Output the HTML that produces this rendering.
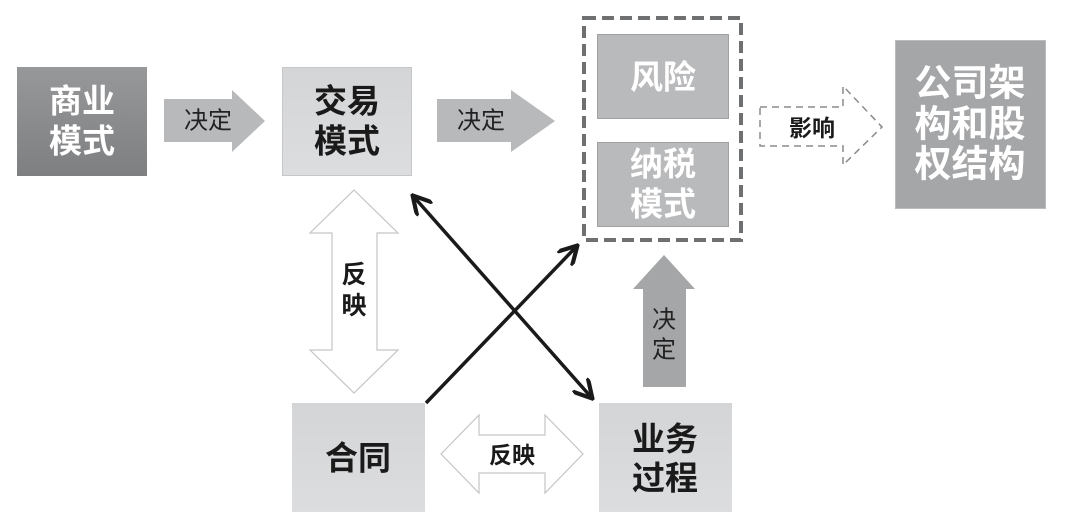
<!DOCTYPE html>
<html><head><meta charset="utf-8"><style>
html,body{margin:0;padding:0;background:#fff;}
svg{display:block;}
text{font-family:"Liberation Sans","Noto Sans CJK SC",sans-serif;text-anchor:middle;dominant-baseline:central;}
</style></head><body>
<svg width="1075" height="524" viewBox="0 0 1075 524" xmlns="http://www.w3.org/2000/svg">
<defs>
<linearGradient id="g1" x1="0" y1="0" x2="0" y2="1"><stop offset="0" stop-color="#97989a"/><stop offset="1" stop-color="#7e7f81"/></linearGradient>
<linearGradient id="g2" x1="0" y1="0" x2="0" y2="1"><stop offset="0" stop-color="#d4d5d7"/><stop offset="1" stop-color="#dcdddf"/></linearGradient>
<marker id="ah" viewBox="0 0 10 10" refX="8" refY="5" markerWidth="6" markerHeight="6" orient="auto-start-reverse"><path d="M0,0 L9,5 L0,10" fill="none" stroke="#1a1a1a" stroke-width="2"/></marker>
</defs>
<rect x="17" y="67" width="130" height="109" fill="url(#g1)"/>
<text x="82" y="101" font-size="33" font-weight="bold" fill="#fff">商业</text>
<text x="82" y="141" font-size="33" font-weight="bold" fill="#fff">模式</text>
<path d="M164,99 H232 V90 L265,121 L232,152 V142 H164 Z" fill="#b8b9bb"/>
<text x="208" y="121" font-size="24" fill="#222">决定</text>
<rect x="282.5" y="67.5" width="129" height="108" fill="url(#g2)" stroke="#c6c7c9"/>
<text x="347" y="101" font-size="33" font-weight="bold" fill="#1a1a1a">交易</text>
<text x="347" y="141" font-size="33" font-weight="bold" fill="#1a1a1a">模式</text>
<path d="M437,99 H511 V90 L555,121 L511,152 V142 H437 Z" fill="#b8b9bb"/>
<text x="481" y="121" font-size="24" fill="#222">决定</text>
<rect x="584" y="18" width="157" height="222" fill="none" stroke="#6f7072" stroke-width="4" stroke-dasharray="12,6"/>
<rect x="597.5" y="34.5" width="131" height="84" fill="#b9babc" stroke="#a0a1a3"/>
<text x="663" y="77" font-size="33" font-weight="bold" fill="#fff">风险</text>
<rect x="597.5" y="142.5" width="131" height="84" fill="#b9babc" stroke="#a0a1a3"/>
<text x="663" y="164" font-size="33" font-weight="bold" fill="#fff">纳税</text>
<text x="663" y="204" font-size="33" font-weight="bold" fill="#fff">模式</text>
<path d="M760,107 H843 V86 L882,127 L843,165 V146 H760 Z" fill="none" stroke="#8a8b8d" stroke-width="1.5" stroke-dasharray="7,5"/>
<text x="812" y="128" font-size="23" font-weight="bold" fill="#1a1a1a">影响</text>
<rect x="895.5" y="40.5" width="150" height="168" fill="#a5a6a8" stroke="#bbbcbe"/>
<text x="970" y="83" font-size="37" font-weight="bold" fill="#fff">公司架</text>
<text x="970" y="124" font-size="37" font-weight="bold" fill="#fff">构和股</text>
<text x="970" y="164" font-size="37" font-weight="bold" fill="#fff">权结构</text>
<path d="M354,190 L398,233 H377 V350 H398 L354,393 L310,350 H332 V233 H310 Z" fill="#fff" stroke="#c4c5c7" stroke-width="1.2"/>
<text x="354" y="275" font-size="25" font-weight="bold" fill="#1a1a1a">反</text>
<text x="354" y="306" font-size="25" font-weight="bold" fill="#1a1a1a">映</text>
<path d="M664,255 L695,289 H686 V387 H643 V289 H633 Z" fill="#a5a6a8"/>
<text x="664" y="320" font-size="24" fill="#222">决</text>
<text x="664" y="350" font-size="24" fill="#222">定</text>
<rect x="292" y="403" width="133" height="109" fill="url(#g2)"/>
<text x="358" y="458" font-size="33" font-weight="bold" fill="#1a1a1a">合同</text>
<path d="M441,454 L479,415 V435 H545 V415 L583,454 L545,493 V473 H479 V493 Z" fill="#fff" stroke="#c4c5c7" stroke-width="1.2"/>
<text x="512" y="455" font-size="23" font-weight="bold" fill="#1a1a1a">反映</text>
<rect x="599" y="403" width="133" height="109" fill="url(#g2)"/>
<text x="665" y="439" font-size="33" font-weight="bold" fill="#1a1a1a">业务</text>
<text x="665" y="478" font-size="33" font-weight="bold" fill="#1a1a1a">过程</text>
<line x1="426" y1="403" x2="576" y2="247" stroke="#1a1a1a" stroke-width="3.5" marker-end="url(#ah)"/>
<line x1="414" y1="197" x2="591" y2="397" stroke="#1a1a1a" stroke-width="3.5" marker-start="url(#ah)" marker-end="url(#ah)"/>
</svg>
</body></html>
